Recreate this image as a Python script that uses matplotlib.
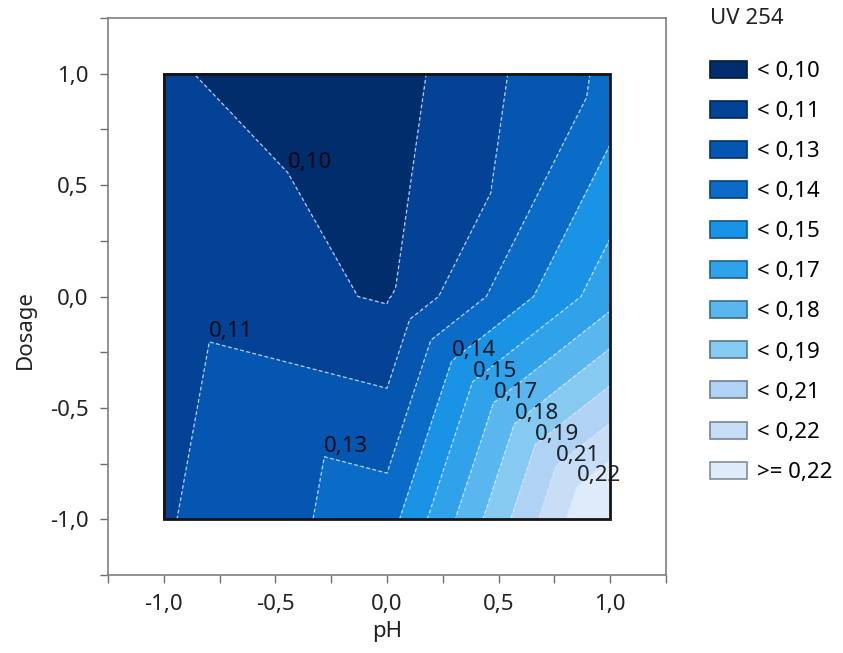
import numpy as np
import matplotlib
matplotlib.use("Agg")
from matplotlib import pyplot as plt
import matplotlib.tri as mtri
from matplotlib.patches import Patch, Rectangle
from matplotlib.colors import to_rgb

# design points (coded units) and measured response
ph = [-1, 0, 1, -1, 0, 1, -1, 0, 1]
dosage = [-1, -1, -1, 0, 0, 0, 1, 1, 1]
uv254 = [0.112, 0.134, 0.241, 0.108, 0.0988, 0.1615, 0.101, 0.0936, 0.130]

# contour levels and band colours (darkest = lowest)
levels = [0.1000, 0.1133, 0.1267, 0.1400, 0.1533, 0.1667, 0.1800, 0.1933, 0.2067, 0.2200]
band_colors = ["#022d6c", "#034294", "#0556b0", "#0b6cc8", "#1893e5", "#30a2ea",
               "#5ab6ee", "#86c9f1", "#b0d2f4", "#c8def7", "#ddebfa"]

# where the contour labels go (snapped to the nearest line)
label_pos = [(-0.44, 0.56), (-0.83, -0.18), (-0.30, -0.71), (0.29, -0.29), (0.38, -0.38),
             (0.47, -0.47), (0.56, -0.56), (0.66, -0.66), (0.75, -0.75), (0.85, -0.85)]

plt.rcParams['font.family'] = ['Noto Sans', 'DejaVu Sans']
fs = 16

fig = plt.figure(figsize=(8.43, 6.53), dpi=100)
ax = fig.add_axes([108 / 843, 1 - 575 / 653, (666 - 108) / 843, (575 - 18) / 653])

tri = mtri.Triangulation(ph, dosage, triangles=[[0, 1, 3], [1, 4, 3], [1, 2, 4], [2, 5, 4],
                                                [3, 4, 7], [3, 7, 6], [4, 5, 8], [4, 8, 7]])
ax.tricontourf(tri, uv254, levels=levels, colors=band_colors, extend='both')
cs = ax.tricontour(tri, uv254, levels=levels, colors="#d6e8fa", linewidths=0.9,
                   linestyles=[(0, (3, 2))], alpha=0.85)

fmt = lambda v: "{:.2f}".format(v).replace(".", ",")
labels = ax.clabel(cs, levels=levels, inline=False, manual=label_pos, fmt=fmt,
                   fontsize=fs, colors="black")
for t in labels:
    t.set_rotation(0)
    t.set_ha("left")
    t.set_va("bottom")

# frame around the data region
x0, x1, y0, y1 = min(ph), max(ph), min(dosage), max(dosage)
ax.add_patch(Rectangle((x0, y0), x1 - x0, y1 - y0, fill=False, ec="#151515", lw=2, zorder=6))

ax.set_xlim(-1.25, 1.25)
ax.set_ylim(-1.25, 1.25)
ticks = [-1.0, -0.5, 0.0, 0.5, 1.0]
ticklabels = ["{:.1f}".format(t).replace(".", ",") for t in ticks]
ax.set_xticks(ticks)
ax.set_yticks(ticks)
ax.set_xticklabels(ticklabels)
ax.set_yticklabels(ticklabels)
minor = [-1.25, -0.75, -0.25, 0.25, 0.75, 1.25]
ax.set_xticks(minor, minor=True)
ax.set_yticks(minor, minor=True)
ax.tick_params(which="both", direction="out", length=6, width=1, color="#6f6f6f",
               labelsize=fs, labelcolor="#222222", pad=8)
for s in ax.spines.values():
    s.set_color("#7f7f7f")
    s.set_linewidth(1.2)
ax.set_xlabel("pH", fontsize=fs, color="#222222", labelpad=4)
ax.set_ylabel("Dosage", fontsize=fs, color="#222222")
ax.yaxis.set_label_coords(-0.129, 0.44)

# legend
fig.text(710 / 843, 1 - 19 / 653, "UV 254", fontsize=fs, color="#222222", va="center", ha="left")
names = ["< " + fmt(v) for v in levels] + [">= " + fmt(levels[-1])]
handles = [Patch(facecolor=c, edgecolor=tuple(0.6 * np.array(to_rgb(c))), lw=1.2)
           for c in band_colors]
leg = fig.legend(handles, names, loc="upper left",
                 bbox_to_anchor=(694 / 843, 1 - 45 / 653), frameon=False, fontsize=fs,
                 handlelength=1.7, handleheight=0.8,
                 handletextpad=0.45, labelspacing=0.85, borderpad=0.2)

fig.savefig("out.png", dpi=100)
